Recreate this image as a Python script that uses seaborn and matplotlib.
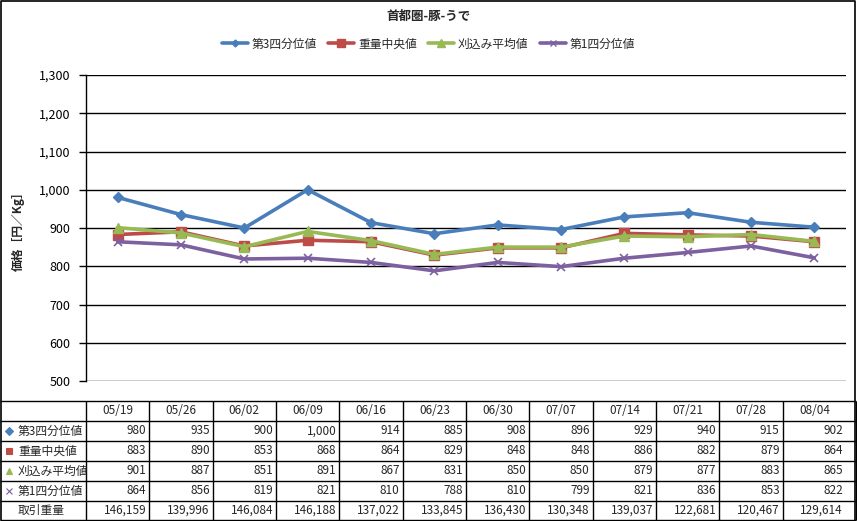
import pandas as pd
import matplotlib
matplotlib.use("Agg")
import matplotlib.pyplot as plt
import seaborn as sns
from matplotlib.lines import Line2D

sns.set_theme(style="white")
plt.rcParams['font.family'] = ['Noto Sans CJK JP', 'DejaVu Sans']

# data
dates = ["05/19", "05/26", "06/02", "06/09", "06/16", "06/23",
         "06/30", "07/07", "07/14", "07/21", "07/28", "08/04"]
q3 = [980, 935, 900, 1000, 914, 885, 908, 896, 929, 940, 915, 902]
median = [883, 890, 853, 868, 864, 829, 848, 848, 886, 882, 879, 864]
mean = [901, 887, 851, 891, 867, 831, 850, 850, 879, 877, 883, 865]
q1 = [864, 856, 819, 821, 810, 788, 810, 799, 821, 836, 853, 822]
volume = [146159, 139996, 146084, 146188, 137022, 133845,
          136430, 130348, 139037, 122681, 120467, 129614]

names = ["第3四分位値", "重量中央値", "刈込み平均値", "第1四分位値"]
table_names = ["第3四分位値", "重量中央値", "刈込み平均値", "第1四分位値"]
series = [q3, median, mean, q1]
colors = ["#4A7EBB", "#BE4B48", "#98B954", "#7D60A0"]
markers = ["D", "s", "^", "x"]
msizes = [5, 7, 7, 6]

W, H = 857, 521
fig = plt.figure(figsize=(W / 100, H / 100), dpi=100)

# plot area in pixels
px_l, px_r, px_t, px_b = 86, 846, 75, 381
ax = fig.add_axes([px_l / W, 1 - px_b / H, (px_r - px_l) / W, (px_b - px_t) / H])

x = list(range(len(dates)))
for vals, name, c, m, ms in zip(series, names, colors, markers, msizes):
    df = pd.DataFrame({"x": x, "y": vals})
    sns.lineplot(data=df, x="x", y="y", ax=ax, color=c, lw=2.6,
                 marker=m, markersize=ms, markeredgecolor=c,
                 markeredgewidth=1 if m != "x" else 1.2, label=name)

ax.set_xlim(-0.5, len(dates) - 0.5)
ax.set_ylim(500, 1300)
ax.set_yticks(range(500, 1301, 100))
ax.set_yticklabels([f"{v:,}" for v in range(500, 1301, 100)], fontsize=9)
ax.set_xticks([])
ax.set_xlabel("")
ax.set_ylabel("価格［円／Kg］", fontsize=8.5, fontweight="bold", labelpad=10)
ax.grid(axis="y", color="black", lw=1)
for s in ["top", "right", "bottom"]:
    ax.spines[s].set_visible(False)
ax.spines["left"].set_color("black")
ax.spines["left"].set_linewidth(1)
ax.tick_params(axis="y", direction="out", length=5, width=1, color="black",
               left=True, pad=6, labelcolor="black")
ax.get_legend().remove()

# legend at top
handles = [Line2D([0], [0], color=c, lw=2.6, marker=m, markersize=ms - 1.5,
                  markeredgecolor=c) for c, m, ms in zip(colors, markers, msizes)]
fig.legend(handles, names, loc="center", bbox_to_anchor=(0.5, 1 - 44 / H),
           ncol=4, frameon=False, fontsize=8.5, handlelength=2.2,
           columnspacing=1.0, handletextpad=0.3)

fig.text(0.5, 1 - 16 / H, "首都圏-豚-うで", ha="center", va="center",
         fontsize=9, fontweight="bold")

# data table overlay in pixel coords
tab = fig.add_axes([0, 0, 1, 1], facecolor="none")
tab.set_xlim(0, W)
tab.set_ylim(H, 0)
tab.axis("off")

slot = (px_r - px_l) / len(dates)
row_y = [401, 421, 441, 461, 481, 501, 520]
tab.hlines(row_y, 0, 856, color="black", lw=1)
col_x = [px_l + slot * k for k in range(len(dates))] + [856]
tab.vlines(col_x, row_y[0], row_y[-1], color="black", lw=1)
# outer border
tab.plot([0.5, 0.5, 855.5, 855.5], [520, 0.5, 0.5, 520], color="black", lw=1.2)

fs = 8.5
for i, d in enumerate(dates):
    tab.text(px_l + slot * (i + 0.5), (row_y[0] + row_y[1]) / 2, d,
             ha="center", va="center", fontsize=fs)

rows = series + [volume]
labels = table_names + ["取引重量"]
tsizes = [4, 4.5, 5, 4]
for r, (vals, lab) in enumerate(zip(rows, labels)):
    yc = (row_y[r + 1] + row_y[r + 2]) / 2
    if r < 4:
        tab.plot(9, yc, marker=markers[r], color=colors[r], markersize=tsizes[r],
                 markeredgewidth=0.8, linestyle="none")
    tab.text(18, yc, lab, ha="left", va="center", fontsize=fs)
    for i, v in enumerate(vals):
        tab.text(px_l + slot * (i + 1) - 3, yc, f"{v:,}", ha="right",
                 va="center", fontsize=fs)

fig.savefig("out.png", dpi=100, facecolor="white")
